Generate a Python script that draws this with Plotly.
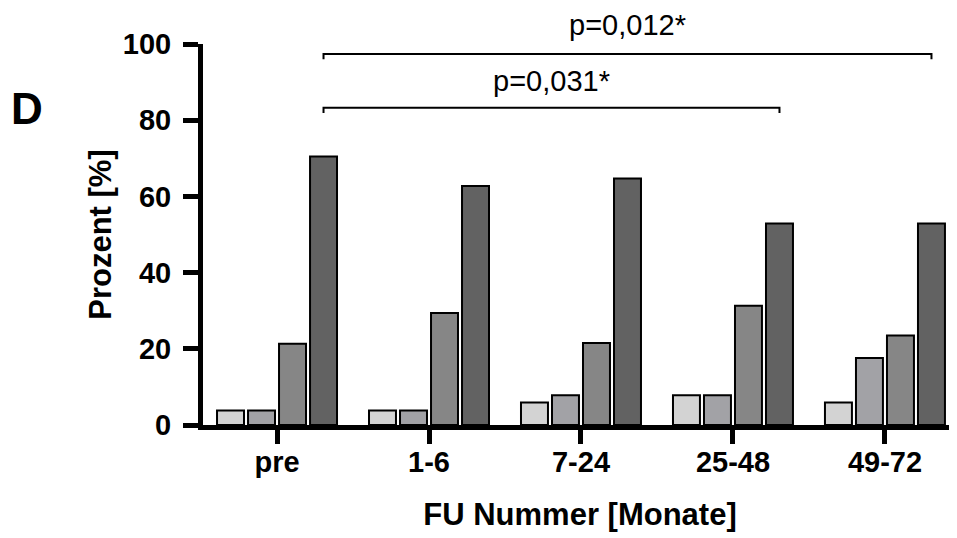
import plotly.graph_objects as go

categories = ["pre", "1-6", "7-24", "25-48", "49-72"]
series_names = ["Stufe 1", "Stufe 2", "Stufe 3", "Stufe 4"]
series_1 = [3.8, 3.8, 5.9, 7.8, 5.9]
series_2 = [3.8, 3.8, 7.8, 7.8, 17.6]
series_3 = [21.3, 29.4, 21.5, 31.3, 23.5]
series_4 = [70.5, 62.7, 64.7, 52.9, 52.9]
series_colors = ["#d3d3d3", "#a2a2a6", "#868686", "#626262"]

y_ticks = [0, 20, 40, 60, 80, 100]

# significance brackets: (from category, to category, bracket y, label, label y)
sig_from = ["pre", "pre"]
sig_to = ["49-72", "25-48"]
sig_y = [97.4, 83.3]
sig_text = ["p=0,012*", "p=0,031*"]
sig_text_y = [105.0, 90.3]

FONT = "Liberation Sans, Arial, sans-serif"

# page has an 8px body margin, so the figure is drawn 8px smaller and offset
W, H = 949, 530
ML, MR, MT, MB = 195, 0, 36, 113
Y_MAX = 100

fig = go.Figure()
for name, vals, col in zip(series_names, [series_1, series_2, series_3, series_4], series_colors):
    fig.add_trace(go.Bar(
        x=categories, y=vals, name=name,
        marker=dict(color=col, line=dict(color="black", width=2)),
        showlegend=False,
    ))

bargap = 0.184
n_series = 4
slot = (1 - bargap) / n_series
last_offset = (n_series - 1 - (n_series - 1) / 2) * slot  # centre of 4th bar relative to group centre

for a, b, yv, txt, ty in zip(sig_from, sig_to, sig_y, sig_text, sig_text_y):
    x0 = categories.index(a) + last_offset
    x1 = categories.index(b) + last_offset
    fig.add_shape(type="path",
                  path=f"M {x0} {yv-1.4} L {x0} {yv} L {x1} {yv} L {x1} {yv-1.4}",
                  xref="x", yref="y", line=dict(color="black", width=2))
    fig.add_annotation(x=(x0 + x1) / 2, y=ty / Y_MAX, xref="x", yref="paper", text=txt,
                       xanchor="center", yanchor="middle",
                       showarrow=False, font=dict(family=FONT, size=29, color="black"))

plot_w = W - ML - MR
plot_h = H - MT - MB
# panel label "D" at screen pixel (27, 110) -> figure pixel (19, 102)
fig.add_annotation(x=(19 - ML) / plot_w, y=(MT + plot_h - 100) / plot_h,
                   xref="paper", yref="paper", text="<b>D</b>",
                   xanchor="center", yanchor="middle",
                   showarrow=False, font=dict(family=FONT, size=44, color="black"))

fig.update_layout(
    width=W, height=H,
    margin=dict(l=ML, r=MR, t=MT, b=MB),
    plot_bgcolor="white", paper_bgcolor="white",
    barmode="group", bargap=bargap, bargroupgap=0.13,
    font=dict(family=FONT, color="black"),
    xaxis=dict(
        type="category", range=[-0.487, 4.474],
        showline=True, linecolor="black", linewidth=5,
        ticks="outside", ticklen=14, tickwidth=5, tickcolor="black",
        tickfont=dict(family=FONT, size=29, color="black", weight="bold"),
        ticklabelstandoff=-7,
        showgrid=False, zeroline=False,
        title=dict(text="<b>FU Nummer [Monate]</b>", font=dict(family=FONT, size=31, color="black"), standoff=28),
    ),
    yaxis=dict(
        range=[0, Y_MAX], tickvals=y_ticks,
        showline=True, linecolor="black", linewidth=5,
        ticks="outside", ticklen=15, tickwidth=5, tickcolor="black",
        tickfont=dict(family=FONT, size=29, color="black", weight="bold"),
        ticklabelstandoff=6,
        showgrid=False, zeroline=False,
        title=dict(text="<b>Prozent [%]</b>", font=dict(family=FONT, size=31, color="black"), standoff=3),
    ),
)

fig.write_html("out.html")
